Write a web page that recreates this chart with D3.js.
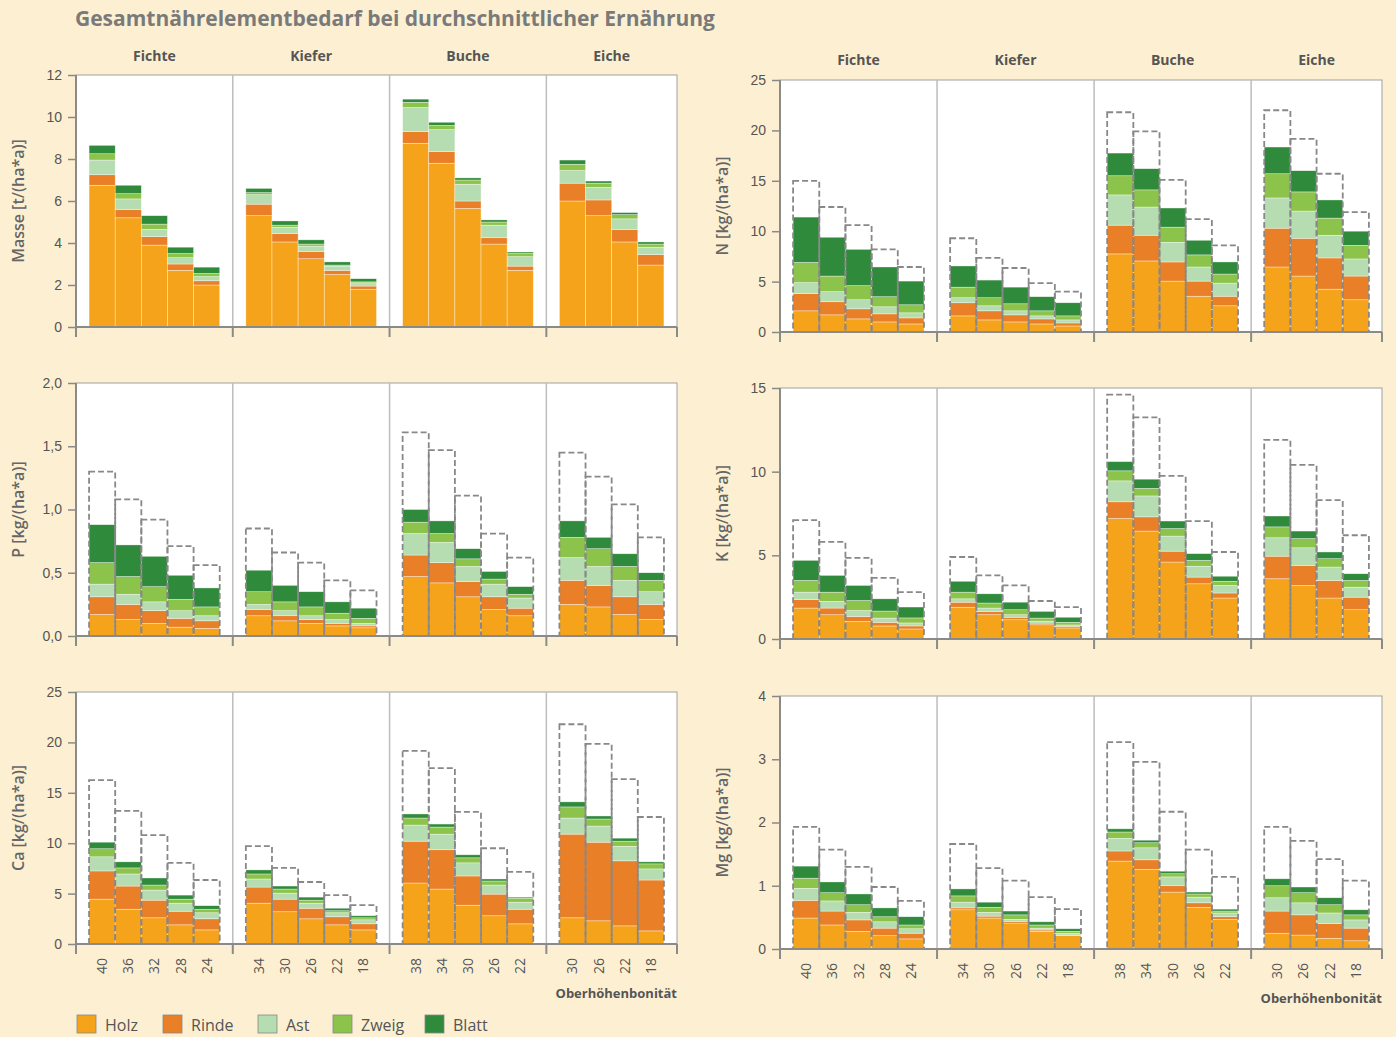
<!DOCTYPE html>
<html><head><meta charset="utf-8">
<script src="https://cdn.jsdelivr.net/npm/d3@7"></script>
<style>
body{margin:0;background:#fdf0d2;}
svg{font-family:"Open Sans",sans-serif;}
</style></head><body>
<svg id="chart" width="1396" height="1037"></svg>
<script>
// groups and their Oberhöhenbonität classes
var groups = ["Fichte","Kiefer","Buche","Eiche"];
var bonitaet = [[40,36,32,28,24],[34,30,26,22,18],[38,34,30,26,22],[30,26,22,18]];
var parts = ["Holz","Rinde","Ast","Zweig","Blatt"];
var colors = ["#f6a31c","#e97f26","#b6dcb1","#8bc34b","#2f8a3b"];

// each row: Holz, Rinde, Ast, Zweig, Blatt (19 bars in group order)
var masse = [[6.75,0.5,0.7,0.3,0.4],[5.2,0.4,0.5,0.25,0.4],[3.9,0.4,0.35,0.25,0.4],[2.7,0.3,0.3,0.2,0.3],[2.0,0.2,0.2,0.15,0.3],
  [5.3,0.55,0.45,0.1,0.2],[4.05,0.4,0.3,0.1,0.2],[3.25,0.35,0.25,0.1,0.2],[2.5,0.2,0.2,0.05,0.15],[1.8,0.15,0.15,0.05,0.15],
  [8.75,0.55,1.15,0.25,0.15],[7.8,0.55,1.05,0.2,0.15],[5.65,0.35,0.8,0.2,0.1],[3.95,0.3,0.6,0.15,0.1],[2.7,0.2,0.45,0.15,0.07],
  [6.0,0.85,0.6,0.3,0.2],[5.3,0.75,0.6,0.2,0.1],[4.05,0.6,0.5,0.2,0.1],[2.95,0.5,0.35,0.15,0.1]];
var stickstoff = [[2.1,1.7,1.1,2.0,4.5],[1.7,1.3,1.0,1.55,3.85],[1.3,1.0,0.9,1.4,3.6],[1.0,0.8,0.7,1.0,2.95],[0.8,0.6,0.5,0.8,2.35],
  [1.6,1.3,0.5,1.05,2.1],[1.2,0.9,0.5,0.8,1.75],[1.0,0.7,0.4,0.7,1.65],[0.8,0.5,0.3,0.5,1.4],[0.6,0.3,0.3,0.4,1.3],
  [7.75,2.85,3.0,1.9,2.25],[7.05,2.55,2.8,1.7,2.1],[5.05,1.9,1.95,1.5,1.9],[3.55,1.5,1.4,1.2,1.45],[2.6,0.95,1.3,0.9,1.2],
  [6.45,3.85,3.0,2.4,2.65],[5.55,3.75,2.7,1.9,2.1],[4.25,3.1,2.25,1.7,1.8],[3.2,2.35,1.7,1.35,1.4]];
var stickstoffTotal = [15,12.4,10.6,8.2,6.45, 9.3,7.35,6.35,4.85,4.0, 21.8,19.9,15.1,11.2,8.6, 22.0,19.15,15.7,11.9];
var phosphor = [[0.17,0.14,0.10,0.17,0.30],[0.13,0.12,0.08,0.14,0.25],[0.10,0.10,0.07,0.12,0.24],[0.07,0.07,0.06,0.09,0.19],[0.06,0.06,0.04,0.07,0.15],
  [0.16,0.05,0.04,0.10,0.17],[0.12,0.04,0.04,0.07,0.13],[0.10,0.03,0.03,0.07,0.12],[0.08,0.02,0.03,0.05,0.09],[0.065,0.015,0.02,0.04,0.08],
  [0.47,0.17,0.17,0.09,0.10],[0.42,0.16,0.16,0.07,0.10],[0.31,0.12,0.12,0.06,0.08],[0.21,0.10,0.10,0.04,0.06],[0.16,0.06,0.08,0.03,0.06],
  [0.25,0.19,0.18,0.16,0.13],[0.23,0.17,0.15,0.14,0.09],[0.17,0.14,0.13,0.11,0.10],[0.13,0.12,0.10,0.09,0.06]];
var phosphorTotal = [1.30,1.08,0.92,0.71,0.56, 0.85,0.66,0.58,0.44,0.36, 1.61,1.47,1.11,0.81,0.62, 1.45,1.26,1.04,0.78];
var kalium = [[1.85,0.5,0.45,0.7,1.2],[1.45,0.4,0.4,0.55,1.0],[1.05,0.3,0.35,0.6,0.9],[0.78,0.22,0.25,0.42,0.73],[0.6,0.18,0.18,0.3,0.65],
  [1.9,0.3,0.2,0.4,0.65],[1.45,0.2,0.2,0.3,0.55],[1.15,0.15,0.15,0.3,0.45],[0.85,0.1,0.12,0.18,0.4],[0.66,0.1,0.08,0.16,0.3],
  [7.2,1.0,1.25,0.6,0.55],[6.45,0.85,1.25,0.45,0.55],[4.6,0.65,0.9,0.45,0.45],[3.3,0.4,0.65,0.35,0.4],[2.45,0.3,0.45,0.25,0.3],
  [3.6,1.35,1.1,0.65,0.65],[3.2,1.2,1.05,0.55,0.45],[2.45,1.05,0.8,0.5,0.4],[1.75,0.75,0.6,0.4,0.4]];
var kaliumTotal = [7.1,5.8,4.85,3.65,2.8, 4.9,3.8,3.2,2.27,1.9, 14.6,13.25,9.75,7.05,5.2, 11.9,10.4,8.3,6.2];
var calcium = [[4.45,2.8,1.4,0.8,0.65],[3.45,2.3,1.2,0.6,0.6],[2.6,1.75,1.0,0.5,0.7],[1.9,1.35,0.8,0.4,0.4],[1.4,1.1,0.6,0.35,0.35],
  [4.05,1.6,0.8,0.5,0.4],[3.2,1.25,0.6,0.4,0.3],[2.5,1.05,0.5,0.3,0.3],[1.9,0.8,0.4,0.2,0.25],[1.4,0.6,0.4,0.2,0.2],
  [6.05,4.15,1.6,0.7,0.4],[5.45,3.9,1.55,0.7,0.3],[3.85,2.9,1.3,0.5,0.3],[2.8,2.15,0.9,0.4,0.2],[2.0,1.45,0.7,0.4,0.1],
  [2.6,8.3,1.6,1.1,0.5],[2.3,7.8,1.6,0.7,0.3],[1.8,6.45,1.45,0.5,0.3],[1.3,5.05,1.1,0.5,0.2]];
var calciumTotal = [16.25,13.2,10.8,8.05,6.35, 9.7,7.55,6.15,4.85,3.85, 19.15,17.45,13.1,9.5,7.15, 21.8,19.85,16.35,12.6];
var magnesium = [[0.49,0.28,0.19,0.16,0.19],[0.38,0.22,0.16,0.13,0.17],[0.28,0.18,0.12,0.12,0.17],[0.21,0.12,0.10,0.08,0.14],[0.16,0.09,0.07,0.06,0.13],
  [0.62,0.03,0.09,0.10,0.11],[0.49,0.03,0.06,0.08,0.08],[0.40,0.03,0.04,0.07,0.06],[0.28,0.02,0.03,0.05,0.05],[0.21,0.01,0.03,0.03,0.04],
  [1.39,0.16,0.20,0.10,0.05],[1.26,0.15,0.19,0.08,0.04],[0.90,0.10,0.14,0.05,0.04],[0.66,0.07,0.09,0.05,0.03],[0.47,0.04,0.06,0.03,0.03],
  [0.25,0.35,0.21,0.19,0.11],[0.22,0.32,0.19,0.16,0.09],[0.17,0.23,0.17,0.13,0.11],[0.13,0.20,0.13,0.08,0.08]];
var magnesiumTotal = [1.93,1.57,1.30,0.98,0.76, 1.66,1.28,1.08,0.82,0.63, 3.27,2.96,2.17,1.57,1.14, 1.93,1.71,1.42,1.08];

var panels = [
  {title:"Masse [t/(ha*a)]", data:masse, total:null, max:12, step:2, dec:false, x0:76, x1:677, top:75, bot:327, head:56, ticks:false},
  {title:"N [kg/(ha*a)]", data:stickstoff, total:stickstoffTotal, max:25, step:5, dec:false, x0:780, x1:1382, top:80, bot:332, head:60, ticks:false},
  {title:"P [kg/(ha*a)]", data:phosphor, total:phosphorTotal, max:2, step:0.5, dec:true, x0:76, x1:677, top:383, bot:636, ticks:false},
  {title:"K [kg/(ha*a)]", data:kalium, total:kaliumTotal, max:15, step:5, dec:false, x0:780, x1:1382, top:388, bot:639, ticks:false},
  {title:"Ca [kg/(ha*a)]", data:calcium, total:calciumTotal, max:25, step:5, dec:false, x0:76, x1:677, top:692, bot:944, ticks:true},
  {title:"Mg [kg/(ha*a)]", data:magnesium, total:magnesiumTotal, max:4, step:1, dec:false, x0:780, x1:1382, top:696, bot:949, ticks:true}
];

var svg = d3.select("#chart");
var axisCol = "#8a8a8a", textCol = "#555";

svg.append("text").attr("x",75).attr("y",26).attr("font-size",21).attr("font-weight","bold")
  .attr("fill","#7a7a7a").text("Gesamtnährelementbedarf bei durchschnittlicher Ernährung");

// slot positions: each group has n bars plus half a slot padding each side
var slots = [], groupEdges = [0], pos = 0;
bonitaet.forEach(function(b,g){
  b.forEach(function(v,i){ slots.push({g:g, label:v, s:pos+0.5+i}); });
  pos += b.length+1; groupEdges.push(pos);
});

panels.forEach(function(p){
  var x = d3.scaleLinear().domain([0,pos]).range([p.x0,p.x1]);
  var y = d3.scaleLinear().domain([0,p.max]).range([p.bot,p.top]);
  var bw = x(1)-x(0);
  var g = svg.append("g");

  g.append("rect").attr("x",p.x0).attr("y",p.top).attr("width",p.x1-p.x0).attr("height",p.bot-p.top)
    .attr("fill","#fff").attr("stroke","#a0a0a0").attr("stroke-width",1);

  // group dividers
  g.selectAll(".div").data(groupEdges.slice(1,-1)).enter().append("line")
    .attr("x1",function(d){return x(d);}).attr("x2",function(d){return x(d);})
    .attr("y1",p.top).attr("y2",p.bot).attr("stroke","#bdbdbd").attr("stroke-width",1.5);

  // stacked bars
  var stack = d3.stack().keys([0,1,2,3,4])(p.data);
  stack.forEach(function(layer,k){
    g.selectAll(".l"+k).data(layer).enter().append("rect")
      .attr("x",function(d,i){return x(slots[i].s);})
      .attr("width",bw)
      .attr("y",function(d){return y(d[1]);})
      .attr("height",function(d){return y(d[0])-y(d[1]);})
      .attr("fill",colors[k]).attr("stroke","#fff").attr("stroke-opacity",0.6).attr("stroke-width",0.6);
  });
  // dashed total requirement
  if(p.total){
    g.selectAll(".tot").data(p.total).enter().append("rect")
      .attr("x",function(d,i){return x(slots[i].s);})
      .attr("width",bw)
      .attr("y",function(d){return y(d);})
      .attr("height",function(d){return p.bot-y(d);})
      .attr("fill","none").attr("stroke","#888").attr("stroke-width",1.8).attr("stroke-dasharray","6,3");
  }

  // y axis
  var yAxis = d3.axisLeft(y).tickValues(d3.range(0,p.max+0.001,p.step)).tickSize(8).tickPadding(6)
    .tickFormat(function(d){return p.dec ? d3.format(".1f")(d).replace(".",",") : d;});
  var ya = g.append("g").attr("transform","translate("+p.x0+",0)").call(yAxis);
  ya.select(".domain").attr("stroke",axisCol).attr("stroke-width",2).attr("d","M0,"+p.top+"V"+(p.bot+10));
  ya.selectAll(".tick line").attr("stroke",axisCol).attr("stroke-width",1.5);
  ya.selectAll("text").attr("fill",textCol).attr("font-size",14);

  // x axis line with group boundary ticks
  g.append("line").attr("x1",p.x0).attr("x2",p.x1).attr("y1",p.bot).attr("y2",p.bot).attr("stroke",axisCol).attr("stroke-width",2);
  g.selectAll(".gt").data(groupEdges).enter().append("line")
    .attr("x1",function(d){return x(d);}).attr("x2",function(d){return x(d);})
    .attr("y1",p.bot).attr("y2",p.bot+10).attr("stroke",axisCol).attr("stroke-width",2);

  // y title
  g.append("text").attr("transform","translate("+(p.x0-52)+","+((p.top+p.bot)/2)+") rotate(-90)")
    .attr("text-anchor","middle").attr("font-size",16).attr("font-weight",600).attr("fill","#666").text(p.title);

  if(p.head){
    g.selectAll(".gh").data(groups).enter().append("text")
      .attr("x",function(d,i){return x((groupEdges[i]+groupEdges[i+1])/2);}).attr("y",p.head+5)
      .attr("text-anchor","middle").attr("font-size",14).attr("font-weight","bold").attr("fill","#555").text(function(d){return d;});
  }
  if(p.ticks){
    g.selectAll(".xl").data(slots).enter().append("text")
      .attr("transform",function(d){return "translate("+(x(d.s)+bw/2+5)+","+(p.bot+14)+") rotate(-90)";})
      .attr("text-anchor","end").attr("font-size",14).attr("fill",textCol).text(function(d){return d.label;});
    g.append("text").attr("x",p.x1).attr("y",p.bot+54).attr("text-anchor","end").attr("font-size",13)
      .attr("font-weight","bold").attr("fill","#555").text("Oberhöhenbonität");
  }
});

// legend
var legX = [77,163,258,333,425];
var leg = svg.selectAll(".leg").data(parts).enter().append("g")
  .attr("transform",function(d,i){return "translate("+legX[i]+",1015)";});
leg.append("rect").attr("width",19).attr("height",18).attr("fill",function(d,i){return colors[i];})
  .attr("stroke","#888").attr("stroke-width",0.8);
leg.append("text").attr("x",28).attr("y",16).attr("font-size",16).attr("fill","#555").text(function(d){return d;});
</script>
</body></html>
